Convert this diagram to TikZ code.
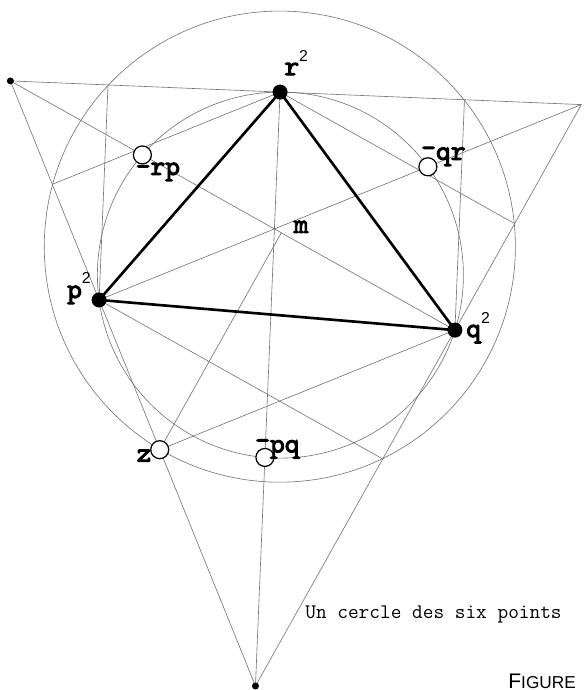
\documentclass[tikz,border=0pt]{standalone}
\usepackage{fontspec}
\newfontfamily\figsans{Liberation Sans}
\newfontfamily\labfont{lmmono10-regular.otf}[FakeBold=3.5]
\usetikzlibrary{calc,through}

\newcommand{\twosup}{\raisebox{0.5em}{\figsans\fontsize{9}{9}\selectfont 2}}
\newcommand{\upbar}{\raisebox{0.12em}{-}}

\begin{document}
\begin{tikzpicture}[
    x=3.66cm, y=3.66cm,
    thin line/.style={draw=black!55, line width=0.35pt},
    side/.style={draw=black, line width=1.5pt, line join=round},
    bigdot/.style={circle, fill=black, inner sep=0pt, minimum size=0.30cm},
    smalldot/.style={circle, fill=black, inner sep=0pt, minimum size=0.14cm},
    hole/.style={circle, draw=black, fill=white, line width=0.7pt, inner sep=0pt, minimum size=0.36cm},
    lab/.style={font=\labfont\fontsize{16}{16}\selectfont, inner sep=0pt}
]
\useasboundingbox (-5.608cm,-8.298cm) rectangle (6.052cm,5.502cm);
\clip (-5.608cm,-8.298cm) rectangle (6.052cm,5.502cm);

% Points on the unit circle
\coordinate (O) at (0,0);
\coordinate (p2) at (187.8:1);
\coordinate (q2) at (342.5:1);
\coordinate (r2) at (90.1:1);
\coordinate (pq) at (85.15:1);
\coordinate (qr) at (216.3:1);
\coordinate (rp) at (318.95:1);
\coordinate (npq) at (265.15:1);
\coordinate (nqr) at (36.3:1);
\coordinate (nrp) at (138.95:1);

% Outer triangle and cevians
\coordinate (A) at (intersection of r2--pq and p2--qr);
\coordinate (B) at (intersection of r2--pq and q2--rp);
\coordinate (C) at (intersection of p2--qr and q2--rp);
\coordinate (m) at (intersection of A--q2 and B--p2);

% Parallels to the cevians
\coordinate (p2c) at ($(p2)+(r2)-(C)$);
\coordinate (p2a) at ($(p2)+(q2)-(A)$);
\coordinate (q2c) at ($(q2)+(r2)-(C)$);
\coordinate (q2b) at ($(q2)+(p2)-(B)$);
\coordinate (r2b) at ($(r2)+(p2)-(B)$);
\coordinate (r2a) at ($(r2)+(q2)-(A)$);
\coordinate (D) at (intersection of p2--p2c and A--B);
\coordinate (H) at (intersection of p2--p2a and B--C);
\coordinate (F) at (intersection of q2--q2c and A--B);
\coordinate (z) at (intersection of q2--q2b and A--C);
\coordinate (E) at (intersection of r2--r2b and A--C);
\coordinate (G) at (intersection of r2--r2a and B--C);
\coordinate (zc) at ($(z)+(C)-(B)$);
\coordinate (foot) at (intersection of z--zc and A--q2);

% Centre of the second circle
\coordinate (dfm) at ($(D)!0.5!(F)$);
\coordinate (dfn) at ($(dfm)!1!90:(F)$);
\coordinate (dzm) at ($(D)!0.5!(z)$);
\coordinate (dzn) at ($(dzm)!1!90:(z)$);
\coordinate (c1) at (intersection of dfm--dfn and dzm--dzn);

% Circles
\draw [thin line] (O) circle [radius=1];
\node (bigcircle) [thin line] at (c1) [circle through={(D)}] {};

% Lines
\draw [thin line] (A) -- (B) -- (C) -- cycle;
\draw [thin line] (A) -- (q2) (B) -- (p2) (C) -- (r2);
\draw [thin line] (p2) -- (D) (p2) -- (H);
\draw [thin line] (q2) -- (F) (q2) -- (z);
\draw [thin line] (r2) -- (E) (r2) -- (G);
\draw [thin line] (z) -- (foot);
\draw [side] (p2) -- (q2) -- (r2) -- cycle;

% Nodes
\node (dotA) [smalldot] at (A) {};
\node (dotC) [smalldot] at (C) {};
\node (dotp) [bigdot] at (p2) {};
\node (dotq) [bigdot] at (q2) {};
\node (dotr) [bigdot] at (r2) {};
\node (holerp) [hole] at (nrp) {};
\node (holeqr) [hole] at (nqr) {};
\node (holepq) [hole] at (npq) {};
\node (holez) [hole] at (z) {};

% Labels
\node (labr) [lab, anchor=base west] at ([shift={(0.08cm,0.34cm)}]r2) {r\twosup};
\node (labp) [lab, anchor=base east] at ([shift={(-0.16cm,0.04cm)}]p2) {p\twosup};
\node (labq) [lab, anchor=base west] at ([shift={(0.22cm,-0.14cm)}]q2) {q\twosup};
\node (labm) [lab, anchor=base west] at ([shift={(0.38cm,-0.08cm)}]m) {m};
\node (labrp) [lab, anchor=base west] at ([shift={(-0.14cm,-0.40cm)}]nrp) {-rp};
\node (labqr) [lab, anchor=base west] at ([shift={(-0.14cm,0.14cm)}]nqr) {\upbar qr};
\node (labpq) [lab, anchor=base west] at ([shift={(-0.20cm,0.10cm)}]npq) {\upbar pq};
\node (labz) [lab, anchor=base east] at ([shift={(-0.16cm,-0.24cm)}]z) {z};

\node (caption) [anchor=base west, inner sep=0pt, font=\ttfamily\fontsize{11.8}{12}\selectfont]
    at (0.492cm,-6.858cm) {Un cercle des six points};
\node (figlabel) [anchor=base west, inner sep=0pt, font=\figsans]
    at (4.552cm,-8.258cm) {{\fontsize{12}{12}\selectfont F}{\fontsize{9.8}{10}\selectfont IGURE}};

\end{tikzpicture}
\end{document}
